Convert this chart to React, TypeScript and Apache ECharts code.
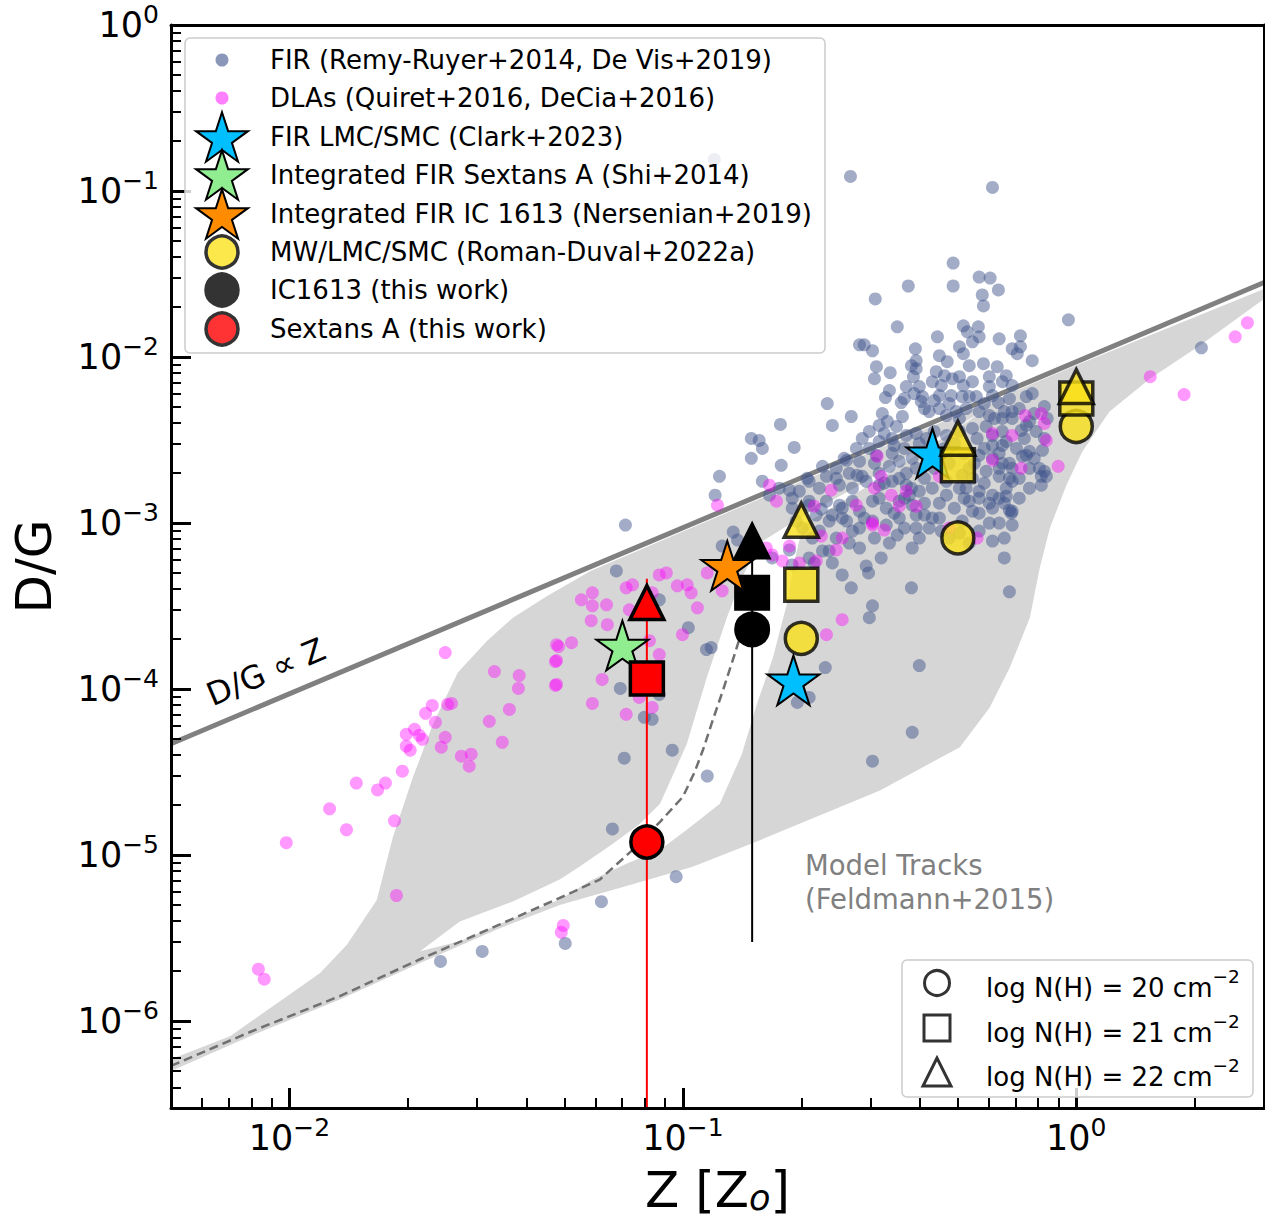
import React, { useEffect, useRef } from "react";
import * as echarts from "echarts";

const FONT = "DejaVu Sans";

// ---- axis limits ----
const xMin = 0.005, xMax = 3;
const yMin = 3e-7, yMax = 1;
const xMajorExp = [-2, -1, 0];
const yMajorExp = [-6, -5, -4, -3, -2, -1, 0];

// ---- FIR (Remy-Ruyer+2014, De Vis+2019): [log10 Z, log10 D/G] ----
const firPoints: [number, number][] = [
  [-0.920,-0.810],[-0.574,-0.912],[-0.213,-0.978],[-0.313,-1.434],[-0.427,-1.572],[-0.313,-1.572],[-0.247,-1.518],[-0.219,-1.524],
  [-0.198,-1.596],[-0.239,-1.626],[-0.236,-1.692],[-0.511,-1.650],[-0.020,-1.776],[-0.455,-1.818],[-0.353,-1.878],[-0.287,-1.812],
  [-0.277,-1.848],[-0.249,-1.818],[-0.247,-1.878],[-0.264,-1.908],[-0.196,-1.890],[-0.142,-1.872],[-0.163,-1.950],[-0.150,-1.980],
  [-0.142,-1.938],[-0.112,-2.022],[-0.297,-1.938],[-0.287,-1.980],[-0.348,-1.992],[-0.409,-1.950],[-0.551,-1.926],[-0.539,-1.926],
  [-0.518,-1.962],[-0.407,-2.022],[-0.419,-2.052],[-0.407,-2.070],[-0.328,-2.028],[-0.236,-2.040],[-0.272,-2.052],[-0.201,-2.058],
  [-0.178,-2.112],[-0.508,-2.058],[-0.513,-2.130],[-0.473,-2.094],[-0.414,-2.118],[-0.356,-2.088],[-0.335,-2.112],[-0.366,-2.148],
  [-0.343,-2.172],[-0.315,-2.130],[-0.297,-2.118],[-0.287,-2.172],[-0.264,-2.148],[-0.221,-2.118],[-0.221,-2.178],[-0.188,-2.148],
  [-0.163,-2.172],[-0.432,-2.178],[-0.399,-2.178],[-0.391,-2.238],[-0.348,-2.232],[-0.485,-2.244],[-0.445,-2.274],[-0.394,-2.268],
  [-0.318,-2.232],[-0.290,-2.238],[-0.254,-2.238],[-0.213,-2.232],[-0.198,-2.274],[-0.127,-2.238],[-0.112,-2.220],[-0.633,-2.280],
  [-0.572,-2.358],[-0.620,-2.412],[-0.752,-2.406],[-0.717,-2.544],[-0.750,-2.652],[-0.493,-2.340],[-0.480,-2.388],[-0.457,-2.418],
  [-0.442,-2.358],[-0.374,-2.328],[-0.348,-2.310],[-0.330,-2.352],[-0.305,-2.328],[-0.280,-2.310],[-0.247,-2.328],[-0.221,-2.352],
  [-0.183,-2.328],[-0.163,-2.370],[-0.127,-2.412],[-0.102,-2.448],[-0.074,-2.370],[-0.501,-2.412],[-0.526,-2.448],[-0.544,-2.490],
  [-0.559,-2.550],[-0.526,-2.550],[-0.501,-2.508],[-0.468,-2.490],[-0.432,-2.472],[-0.407,-2.460],[-0.381,-2.490],[-0.361,-2.448],
  [-0.330,-2.472],[-0.297,-2.448],[-0.264,-2.430],[-0.229,-2.418],[-0.213,-2.472],[-0.188,-2.448],[-0.252,-2.490],[-0.213,-2.532],
  [-0.178,-2.508],[-0.152,-2.550],[-0.127,-2.592],[-0.086,-2.562],[-0.584,-2.622],[-0.551,-2.628],[-0.508,-2.592],[-0.468,-2.580],
  [-0.450,-2.628],[-0.417,-2.610],[-0.381,-2.568],[-0.610,-2.670],[-0.577,-2.700],[-0.544,-2.718],[-0.501,-2.700],[-0.475,-2.658],
  [-0.432,-2.700],[-0.407,-2.670],[-0.247,-2.592],[-0.213,-2.610],[-0.188,-2.640],[-0.229,-2.688],[-0.196,-2.718],[-0.163,-2.670],
  [-0.145,-2.730],[-0.094,-2.670],[-0.076,-2.718],[-0.635,-2.718],[-0.679,-2.748],[-0.653,-2.790],[-0.704,-2.808],[-0.722,-2.850],
  [-0.755,-2.790],[-0.780,-2.832],[-0.798,-2.748],[-0.602,-2.772],[-0.569,-2.790],[-0.534,-2.748],[-0.501,-2.772],[-0.468,-2.748],
  [-0.432,-2.772],[-0.399,-2.808],[-0.366,-2.790],[-0.330,-2.748],[-0.264,-2.730],[-0.280,-2.790],[-0.247,-2.808],[-0.213,-2.832],
  [-0.178,-2.790],[-0.196,-2.850],[-0.163,-2.928],[-0.635,-2.868],[-0.602,-2.892],[-0.569,-2.868],[-0.551,-2.928],[-0.595,-2.970],
  [-0.518,-2.868],[-0.483,-2.910],[-0.450,-2.868],[-0.417,-2.892],[-0.407,-2.952],[-0.450,-2.970],[-0.483,-3.012],[-0.518,-2.988],
  [-0.551,-3.030],[-0.455,-3.072],[-0.407,-3.030],[-0.366,-2.970],[-0.330,-2.832],[-0.272,-2.868],[-0.264,-2.928],[-0.213,-2.910],
  [-0.196,-3.000],[-0.163,-3.012],[-0.247,-3.048],[-0.213,-3.108],[-0.348,-2.970],[-0.343,-3.048],[-0.290,-2.988],[-0.679,-2.868],
  [-0.722,-2.910],[-0.661,-2.952],[-0.696,-3.030],[-0.653,-3.048],[-0.628,-2.988],[-0.610,-3.090],
  [-0.907,-2.718],[-0.918,-2.832],[-0.826,-2.490],[-0.806,-2.502],[-0.798,-2.550],[-0.826,-2.610],[-0.417,-3.150],[-0.496,-3.210],
  [-0.551,-3.150],[-0.534,-3.258],[-0.170,-2.922],[-0.089,-2.718],[-0.089,-2.772],[-0.119,-2.568],[-0.178,-2.838],[-0.183,-3.210],
  [-0.247,-2.850],[-0.290,-2.712],[-0.386,-2.952],[-0.424,-2.832],[-0.163,-2.328],
  [-0.684,-2.730],[-0.645,-2.658],[-0.729,-2.802],[-0.679,-2.892],[-0.648,-2.916],[-0.610,-2.730],[-0.590,-2.610],[-0.557,-2.712],
  [-0.595,-2.910],[-0.620,-2.952],[-0.584,-2.988],[-0.569,-3.048],[-0.577,-3.120],[-0.671,-3.090],[-0.645,-3.168],[-0.666,-3.240],
  [-0.595,-3.312],[-0.620,-3.240],[-0.729,-3.162],[-0.773,-3.210],[-0.722,-3.252],[-1.146,-3.012],[-0.872,-3.054],[-0.900,-3.138],
  [-0.861,-3.102],[-1.169,-3.288],
  [-1.060,-3.462],[-0.986,-3.630],[-0.940,-3.762],[-0.928,-3.750],[-1.159,-3.996],[-1.098,-4.170],[-1.078,-4.182],[-1.060,-4.032],
  [-0.638,-3.870],[-0.709,-4.080],[-0.679,-4.050],[-0.572,-3.390],[-0.528,-3.300],[-0.526,-3.570],[-0.518,-3.498],[-0.628,-3.168],
  [-0.679,-3.210],[-0.712,-2.988],[-1.149,-4.416],[-1.027,-4.368],[-0.938,-4.524],[-1.179,-4.842],[-1.017,-5.130],[-1.207,-5.280],
  [-1.299,-5.532],[-0.518,-4.434],[-1.616,-5.640],[-1.510,-5.580],[-0.417,-4.260],[-0.399,-3.858],[-0.419,-3.390],[-0.170,-3.414],
  [0.318,-1.944],[-0.188,-2.370],[-0.140,-2.442],[-0.119,-2.388],[-0.081,-2.298],[-0.188,-2.532],[-0.137,-2.598],[-0.163,-2.748],
  [-0.081,-2.688],[-0.165,-2.940],
  [-0.475,-2.202],[-0.437,-2.250],[-0.412,-2.220],[-0.386,-2.310],[-0.361,-2.262],[-0.323,-2.280],[-0.297,-2.370],[-0.272,-2.238],
  [-0.234,-2.280],[-0.208,-2.370],[-0.170,-2.250],[-0.145,-2.310],[-0.107,-2.340],[-0.488,-2.460],[-0.463,-2.532],[-0.437,-2.550],
  [-0.399,-2.520],[-0.374,-2.610],[-0.335,-2.550],[-0.310,-2.520],[-0.285,-2.580],[-0.259,-2.640],[-0.234,-2.550],[-0.196,-2.580],
  [-0.170,-2.640],[-0.132,-2.490],[-0.107,-2.610],[-0.081,-2.490],[-0.513,-2.640],[-0.488,-2.760],[-0.450,-2.730],[-0.419,-2.790],
  [-0.386,-2.730],[-0.361,-2.670],[-0.323,-2.640],[-0.297,-2.790],[-0.272,-2.670],[-0.234,-2.760],[-0.196,-2.670],[-0.170,-2.730],
  [-0.119,-2.670],[-0.501,-2.850],[-0.463,-2.940],[-0.437,-2.850],[-0.386,-2.880],[-0.348,-2.880],[-0.310,-2.910],[-0.285,-2.850],
  [-0.247,-2.940],[-0.221,-2.880],[-0.183,-2.880],[-0.145,-2.850],[-0.119,-2.790],[-0.437,-3.030],[-0.399,-3.090],[-0.374,-3.030],
  [-0.323,-3.090],[-0.297,-3.060],[-0.272,-3.120],[-0.221,-3.000],[-0.183,-3.090],[-0.539,-2.970],[-0.513,-3.090],[-0.475,-3.120]
];

// ---- DLAs (Quiret+2016, DeCia+2016): [log10 Z, log10 D/G] ----
const dlaPoints: [number, number][] = [
  [-1.604,-3.780],[-1.479,-3.894],[-1.416,-3.918],[-1.418,-3.996],[-1.324,-3.834],[-1.316,-3.744],[-1.283,-3.720],[-1.324,-3.978],
  [-1.230,-4.086],[-1.258,-3.462],[-1.230,-3.420],[-1.230,-3.498],[-1.233,-3.588],[-1.598,-4.092],[-1.588,-4.086],[-1.637,-4.098],
  [-1.654,-4.146],[-1.629,-4.200],[-1.604,-4.290],[-1.614,-4.350],[-1.682,-4.242],[-1.703,-4.272],[-1.670,-4.278],[-1.662,-4.302],
  [-1.703,-4.344],[-1.693,-4.368],[-1.492,-4.194],[-1.441,-4.122],[-1.459,-4.320],[-1.563,-4.404],[-1.538,-4.392],[-1.543,-4.464],
  [-1.713,-4.494],[-1.756,-4.566],[-1.776,-4.607],[-1.830,-4.566],[-1.898,-4.721],[-1.855,-4.847],[-1.733,-4.793],[-2.008,-4.925],
  [-1.728,-5.243],[-2.079,-5.687],[-2.064,-5.747],[-1.304,-5.423],[-1.309,-5.465],
  [0.435,-1.794],[0.404,-1.878],[0.188,-2.118],[0.274,-2.226],[-0.130,-2.352],[-0.089,-2.340],[-0.081,-2.400],[-0.076,-2.502],
  [-0.046,-2.658],[-0.140,-2.670],[-0.163,-2.472],[-0.213,-2.460],[-0.213,-2.622],[-0.506,-2.598],[-0.496,-2.718],[-0.513,-2.790],
  [-0.623,-2.802],[-0.559,-2.892],[-0.470,-2.832],[-0.450,-2.898],[-0.407,-2.898],[-0.432,-2.808],[-0.488,-3.042],[-0.518,-3.000],
  [-0.595,-3.090],[-0.666,-2.898],[-0.648,-3.078],[-0.729,-3.138],[-0.780,-2.772],[-0.762,-2.868],[-0.348,-2.718],[-0.252,-3.090],
  [-0.323,-3.030],[-0.912,-2.892],[-0.704,-3.240],[-0.773,-3.192],[-1.060,-3.312],[-1.042,-3.300],[-0.938,-3.300],[-1.144,-3.390],
  [-1.128,-3.372],[-1.014,-3.378],[-0.989,-3.372],[-0.979,-3.420],[-0.963,-3.510],[-0.900,-3.408],[-1.194,-3.492],[-1.192,-3.612],
  [-1.136,-3.522],[-1.078,-3.420],[-1.085,-3.708],[-1.060,-3.792],[-1.001,-3.672],[-1.078,-4.110],[-1.144,-4.152],[-1.205,-3.942],
  [-1.321,-3.732],[-1.321,-3.828],[-1.321,-3.972],[-1.111,-4.050],[-0.595,-3.582],[-0.635,-3.672],[-0.788,-3.150],[-0.747,-3.228],
  [-0.661,-3.228],[-0.610,-3.162],[-0.518,-3.012]
];

// ---- D/G proportional to Z reference line ----
const dgLineZ = [0.005, 3];
const dgLineDG = [4.69e-5, 2.81e-2];

// ---- model track (Feldmann+2015), dashed: [log10 Z, log10 D/G] ----
const modelTrack: [number, number][] = [
  [-2.301,-6.269],[-2.100,-6.065],[-1.872,-5.849],[-1.668,-5.627],[-1.465,-5.417],[-1.305,-5.249],[-1.211,-5.147],
  [-1.127,-4.967],[-1.058,-4.799],[-1.000,-4.649],[-0.970,-4.499],[-0.949,-4.367],[-0.924,-4.187],[-0.898,-4.007],
  [-0.875,-3.839],[-0.855,-3.689],[-0.835,-3.641]
];

// ---- model envelope (shaded) and inner gap: [log10 Z, log10 D/G] ----
const modelEnvelope: [number, number][] = [
  [-2.301,-6.23],[-2.151,-6.09],[-2.006,-5.85],[-1.922,-5.71],[-1.854,-5.54],[-1.778,-5.27],[-1.737,-4.89],[-1.686,-4.53],
  [-1.635,-4.21],[-1.572,-3.90],[-1.498,-3.71],[-1.432,-3.57],[-1.346,-3.44],[-1.236,-3.29],[-1.000,-3.05],[-0.500,-2.55],
  [0.000,-2.05],[0.477,-1.59],
  [0.477,-1.65],[0.314,-1.93],[0.187,-2.13],[0.084,-2.33],[0.015,-2.57],[-0.025,-2.77],[-0.067,-3.03],[-0.093,-3.27],
  [-0.118,-3.57],[-0.169,-3.87],[-0.220,-4.11],[-0.296,-4.35],[-0.499,-4.61],[-0.804,-4.91],[-0.975,-5.07],[-1.150,-5.19],
  [-1.313,-5.30],[-1.465,-5.44],[-1.668,-5.65],[-1.872,-5.87],[-2.100,-6.09],[-2.301,-6.30]
];
const modelGap: [number, number][] = [
  [-1.668,-5.579],[-1.567,-5.399],[-1.432,-5.279],[-1.313,-5.147],[-1.262,-5.069],[-1.178,-4.931],[-1.109,-4.811],
  [-1.058,-4.691],[-0.990,-4.331],[-0.939,-3.929],[-0.888,-3.569],[-0.850,-3.329],[-0.804,-3.119],[-0.703,-2.969],
  [-0.550,-2.771],[-0.398,-2.549],[-0.233,-2.321],
  [-0.398,-2.579],[-0.550,-2.807],[-0.695,-3.011],[-0.720,-3.269],[-0.736,-3.491],[-0.771,-3.809],[-0.812,-4.091],
  [-0.850,-4.391],[-0.906,-4.691],[-0.990,-4.847],[-1.058,-4.967],[-1.142,-5.051],[-1.229,-5.147],[-1.313,-5.267],
  [-1.432,-5.381],[-1.567,-5.519]
];

// ---- literature / this-work points ----
const clarkZ = [0.431, 0.191];
const clarkDG = [2.63e-3, 1.13e-4];
const shiZ = [0.0702];
const shiDG = [1.83e-4];
const nersenianZ = [0.1297];
const nersenianDG = [5.53e-4];
const romanDuvalZ = [0.2, 0.5, 1.0];
const romanDuvalDG20 = [2.02e-4, 8.14e-4, 3.82e-3];
const romanDuvalDG21 = [4.25e-4, 2.23e-3, 5.62e-3];
const romanDuvalDG22 = [1.04e-3, 3.24e-3, 6.64e-3];
const ic1613Z = 0.15;
const ic1613DG = [2.29e-4, 3.81e-4, 7.81e-4]; // logN = 20, 21, 22
const ic1613Range = [3.0e-6, 1.0e-3];
const sextansZ = 0.081;
const sextansDG = [1.2e-5, 1.16e-4, 3.32e-4]; // logN = 20, 21, 22
const sextansRange = [1e-7, 4.62e-4];

const legendLabels = [
  "FIR (Remy-Ruyer+2014, De Vis+2019)",
  "DLAs (Quiret+2016, DeCia+2016)",
  "FIR LMC/SMC (Clark+2023)",
  "Integrated FIR Sextans A (Shi+2014)",
  "Integrated FIR IC 1613 (Nersenian+2019)",
  "MW/LMC/SMC (Roman-Duval+2022a)",
  "IC1613 (this work)",
  "Sextans A (this work)",
];
const columnLabels = ["20", "21", "22"];

// ---- styling ----
const FIR_COLOR = "rgba(60,82,137,0.6)";
const DLA_COLOR = "rgba(255,0,255,0.5)";
const YELLOW = "rgba(250,224,25,0.8)";
const YELLOW_EDGE = "rgba(0,0,0,0.8)";
const STAR_PATH =
  "path://M0,-1L0.2245,-0.309L0.9511,-0.309L0.3633,0.118L0.5878,0.809L0,0.382L-0.5878,0.809L-0.3633,0.118L-0.9511,-0.309L-0.2245,-0.309Z";
const STAR_UNIT = [
  [0, -1], [0.2245, -0.309], [0.9511, -0.309], [0.3633, 0.118], [0.5878, 0.809],
  [0, 0.382], [-0.5878, 0.809], [-0.3633, 0.118], [-0.9511, -0.309], [-0.2245, -0.309],
];

const toReal = (pts: [number, number][]) => pts.map(([a, b]) => [Math.pow(10, a), Math.pow(10, b)]);
const zip = (xs: number[], ys: number[]) => xs.map((x, i) => [x, ys[i]]);

function minorLogTicks(lo: number, hi: number) {
  const out: number[] = [];
  for (let n = -8; n <= 1; n++) {
    for (let k = 2; k <= 9; k++) {
      const v = k * Math.pow(10, n);
      if (v > lo * 1.0001 && v < hi * 0.9999) out.push(Math.log10(v));
    }
  }
  return out;
}

const supText = (v: number) => {
  const e = Math.round(v);
  return `{b|10}{s|${e < 0 ? "\u2212" + -e : e}}`;
};
const tickRich = {
  b: { fontFamily: FONT, fontSize: 35, lineHeight: 40, verticalAlign: "bottom", color: "#000" },
  s: { fontFamily: FONT, fontSize: 25, lineHeight: 30, verticalAlign: "top", color: "#000" },
};

function starPoints(cx: number, cy: number, R: number) {
  const cyAdj = cy + 0.0955 * R;
  return STAR_UNIT.map(([x, y]) => [cx + x * R, cyAdj + y * R]);
}

function buildOption() {
  const lxMin = Math.log10(xMin), lxMax = Math.log10(xMax);
  const lyMin = Math.log10(yMin), lyMax = Math.log10(yMax);

  const hiddenValue = (min: number, max: number, position: string) => ({
    type: "value", min, max, position, z: 10,
    splitLine: { show: false },
    axisLine: { show: false, onZero: false },
    axisTick: { show: false },
    axisLabel: { show: false },
  });

  const xAxis = [
    { type: "log", logBase: 10, min: xMin, max: xMax, show: false, splitLine: { show: false } },
    {
      ...hiddenValue(lxMin, lxMax, "bottom"),
      axisLine: { show: true, onZero: false, lineStyle: { color: "#000", width: 3 } },
      axisTick: { show: true, inside: true, length: 20, lineStyle: { color: "#000", width: 3 }, customValues: xMajorExp },
      axisLabel: { show: true, interval: 0, margin: 7, customValues: xMajorExp, formatter: supText, rich: tickRich },
      name: "{a|Z [Z}{o|o}{a|]}",
      nameLocation: "middle",
      nameGap: 47,
      nameTextStyle: {
        rich: {
          a: { fontFamily: FONT, fontSize: 50, lineHeight: 60, verticalAlign: "bottom", color: "#000" },
          o: { fontFamily: FONT, fontSize: 35, fontStyle: "italic", lineHeight: 28, verticalAlign: "bottom", color: "#000" },
        },
      },
    },
    {
      ...hiddenValue(lxMin, lxMax, "bottom"),
      axisTick: { show: true, inside: true, length: 10, lineStyle: { color: "#000", width: 2 }, customValues: minorLogTicks(xMin, xMax) },
    },
    {
      ...hiddenValue(lxMin, lxMax, "top"),
      axisLine: { show: true, onZero: false, lineStyle: { color: "#000", width: 3 } },
    },
  ];

  const yAxis = [
    { type: "log", logBase: 10, min: yMin, max: yMax, show: false, splitLine: { show: false } },
    {
      ...hiddenValue(lyMin, lyMax, "left"),
      axisLine: { show: true, onZero: false, lineStyle: { color: "#000", width: 3 } },
      axisTick: { show: true, inside: true, length: 20, lineStyle: { color: "#000", width: 3 }, customValues: yMajorExp },
      axisLabel: {
        show: true, interval: 0, margin: 12, customValues: yMajorExp, formatter: supText, rich: tickRich,
        padding: [0, 0, 6, 0],
      },
      name: "D/G",
      nameLocation: "middle",
      nameRotate: 90,
      nameGap: 112,
      nameTextStyle: { fontFamily: FONT, fontSize: 50, color: "#000" },
    },
    {
      ...hiddenValue(lyMin, lyMax, "left"),
      axisTick: { show: true, inside: true, length: 10, lineStyle: { color: "#000", width: 2 }, customValues: minorLogTicks(yMin, yMax) },
    },
    {
      ...hiddenValue(lyMin, lyMax, "right"),
      axisLine: { show: true, onZero: false, lineStyle: { color: "#000", width: 3 } },
    },
  ];

  const envelopeReal = toReal(modelEnvelope);
  const gapReal = toReal(modelGap);

  const markerSeries = (name: string, data: number[][], symbol: string, size: any, color: string, edge: string, edgeW: number, z: number) => ({
    name, type: "scatter", xAxisIndex: 0, yAxisIndex: 0, data, symbol, symbolSize: size, z,
    itemStyle: { color, borderColor: edge, borderWidth: edgeW, opacity: 1 },
    emphasis: { disabled: true },
  });

  const series: any[] = [
    {
      name: "Model Tracks (Feldmann+2015)",
      type: "custom", xAxisIndex: 0, yAxisIndex: 0, silent: true, clip: true, z: 1,
      data: [[0.1, 1e-3]],
      renderItem: (_p: any, api: any) => ({
        type: "group",
        children: [
          { type: "polygon", shape: { points: envelopeReal.map((p) => api.coord(p)) }, style: { fill: "#d6d6d6" } },
          { type: "polygon", shape: { points: gapReal.map((p) => api.coord(p)) }, style: { fill: "#ffffff" } },
        ],
      }),
    },
    {
      name: "D/G \u221d Z", type: "line", xAxisIndex: 0, yAxisIndex: 0, z: 2, symbol: "none", silent: true,
      data: zip(dgLineZ, dgLineDG), lineStyle: { color: "#808080", width: 5 },
    },
    {
      name: "Model track", type: "line", xAxisIndex: 0, yAxisIndex: 0, z: 2, symbol: "none", silent: true,
      data: toReal(modelTrack), lineStyle: { color: "#707070", width: 2.5, type: [9, 5] },
    },
    {
      name: legendLabels[0], type: "scatter", xAxisIndex: 0, yAxisIndex: 0, z: 3, symbolSize: 13,
      data: toReal(firPoints), itemStyle: { color: FIR_COLOR }, emphasis: { disabled: true },
    },
    {
      name: legendLabels[1], type: "scatter", xAxisIndex: 0, yAxisIndex: 0, z: 3, symbolSize: 13,
      data: toReal(dlaPoints), itemStyle: { color: DLA_COLOR }, emphasis: { disabled: true },
    },
    {
      name: "IC1613 range", type: "line", xAxisIndex: 0, yAxisIndex: 0, z: 4, symbol: "none", silent: true,
      data: ic1613Range.map((v) => [ic1613Z, v]), lineStyle: { color: "#000", width: 2 },
    },
    {
      name: "Sextans A range", type: "line", xAxisIndex: 0, yAxisIndex: 0, z: 4, symbol: "none", silent: true,
      data: sextansRange.map((v) => [sextansZ, v]), lineStyle: { color: "#ff0000", width: 2 },
    },
    markerSeries(legendLabels[2], zip(clarkZ, clarkDG), STAR_PATH, [52, 49.5], "#00bfff", "#000", 2, 5),
    markerSeries(legendLabels[3], zip(shiZ, shiDG), STAR_PATH, [52, 49.5], "#90ee90", "#000", 2, 5),
    markerSeries(legendLabels[5] + " 20", zip(romanDuvalZ, romanDuvalDG20), "circle", 32, YELLOW, YELLOW_EDGE, 3.5, 6),
    markerSeries(legendLabels[5] + " 21", zip(romanDuvalZ, romanDuvalDG21), "rect", 33, YELLOW, YELLOW_EDGE, 3.5, 6),
    markerSeries(legendLabels[5] + " 22", zip(romanDuvalZ, romanDuvalDG22), "triangle", 34, YELLOW, YELLOW_EDGE, 3.5, 6),
    markerSeries(legendLabels[6] + " 20", [[ic1613Z, ic1613DG[0]]], "circle", 33, "#000", "#000", 3, 7),
    markerSeries(legendLabels[6] + " 21", [[ic1613Z, ic1613DG[1]]], "rect", 33, "#000", "#000", 3, 7),
    markerSeries(legendLabels[6] + " 22", [[ic1613Z, ic1613DG[2]]], "triangle", 34, "#000", "#000", 3, 7),
    markerSeries(legendLabels[7] + " 20", [[sextansZ, sextansDG[0]]], "circle", 32, "#ff0000", "#000", 3.5, 8),
    markerSeries(legendLabels[7] + " 21", [[sextansZ, sextansDG[1]]], "rect", 33, "#ff0000", "#000", 3.5, 8),
    markerSeries(legendLabels[7] + " 22", [[sextansZ, sextansDG[2]]], "triangle", 34, "#ff0000", "#000", 3.5, 8),
    markerSeries(legendLabels[4], zip(nersenianZ, nersenianDG), STAR_PATH, [52, 49.5], "#ff8c00", "#000", 2, 9),
  ];

  // ---- legends and annotations ----
  const Z = 100;
  const rows1 = [60, 98, 137, 175, 214, 252, 290, 329];
  const mx = 222;
  const graphic: any[] = [
    { type: "rect", z: Z, shape: { x: 185, y: 38, width: 640, height: 315, r: 5 },
      style: { fill: "rgba(255,255,255,0.8)", stroke: "#cccccc", lineWidth: 1.5 } },
    { type: "circle", z: Z + 1, shape: { cx: mx, cy: rows1[0], r: 6.5 }, style: { fill: FIR_COLOR } },
    { type: "circle", z: Z + 1, shape: { cx: mx, cy: rows1[1], r: 6.5 }, style: { fill: DLA_COLOR } },
    { type: "polygon", z: Z + 1, shape: { points: starPoints(mx, rows1[2], 27.3) }, style: { fill: "#00bfff", stroke: "#000", lineWidth: 2 } },
    { type: "polygon", z: Z + 2, shape: { points: starPoints(mx, rows1[3], 27.3) }, style: { fill: "#90ee90", stroke: "#000", lineWidth: 2 } },
    { type: "polygon", z: Z + 3, shape: { points: starPoints(mx, rows1[4], 27.3) }, style: { fill: "#ff8c00", stroke: "#000", lineWidth: 2 } },
    { type: "circle", z: Z + 1, shape: { cx: mx, cy: rows1[5], r: 16 }, style: { fill: "#fde84b", stroke: "#333", lineWidth: 3.5 } },
    { type: "circle", z: Z + 1, shape: { cx: mx, cy: rows1[6], r: 16 }, style: { fill: "#333", stroke: "#333", lineWidth: 3.5 } },
    { type: "circle", z: Z + 1, shape: { cx: mx, cy: rows1[7], r: 16 }, style: { fill: "#ff3333", stroke: "#333", lineWidth: 3.5 } },
    ...legendLabels.map((t, i) => ({
      type: "text", z: Z + 4, x: 270, y: rows1[i],
      style: { text: t, fontFamily: FONT, fontSize: 26, fill: "#000", verticalAlign: "middle", textAlign: "left" },
    })),
    // column density legend
    { type: "rect", z: Z, shape: { x: 902, y: 960, width: 351, height: 137, r: 5 },
      style: { fill: "rgba(255,255,255,0.8)", stroke: "#cccccc", lineWidth: 1.5 } },
    { type: "circle", z: Z + 1, shape: { cx: 937, cy: 983, r: 12.5 }, style: { fill: "none", stroke: "#333", lineWidth: 3 } },
    { type: "rect", z: Z + 1, shape: { x: 924, y: 1015, width: 26, height: 26 }, style: { fill: "none", stroke: "#333", lineWidth: 3 } },
    { type: "polygon", z: Z + 1, shape: { points: [[937, 1058], [923, 1086], [951, 1086]] }, style: { fill: "none", stroke: "#333", lineWidth: 3 } },
    ...columnLabels.map((t, i) => ({
      type: "text", z: Z + 4, x: 986, y: [984, 1029, 1073][i],
      style: {
        text: `{b|log N(H) = ${t} cm}{s|\u22122}`,
        verticalAlign: "middle", textAlign: "left",
        rich: {
          b: { fontFamily: FONT, fontSize: 26, lineHeight: 34, verticalAlign: "bottom", fill: "#000" },
          s: { fontFamily: FONT, fontSize: 18.5, lineHeight: 26, verticalAlign: "top", fill: "#000" },
        },
      },
    })),
    {
      type: "text", z: Z, x: 266, y: 672, rotation: 0.4008,
      style: { text: "D/G \u221d Z", fontFamily: FONT, fontSize: 32, fill: "#000", textAlign: "center", verticalAlign: "middle" },
    },
    {
      type: "text", z: Z, x: 805, y: 848,
      style: { text: "Model Tracks\n(Feldmann+2015)", fontFamily: FONT, fontSize: 27.5, lineHeight: 34, fill: "#808080", textAlign: "left", verticalAlign: "top" },
    },
  ];

  return {
    animation: false,
    backgroundColor: "#ffffff",
    textStyle: { fontFamily: FONT },
    grid: { left: 171, right: 1, top: 25, bottom: 108, containLabel: false },
    xAxis,
    yAxis,
    series,
    graphic,
  };
}

export default function App() {
  const ref = useRef<HTMLDivElement>(null);
  useEffect(() => {
    if (!ref.current) return;
    const chart = echarts.init(ref.current, undefined, { renderer: "svg" });
    chart.setOption(buildOption() as any);
    return () => chart.dispose();
  }, []);
  return <div ref={ref} style={{ position: "absolute", left: 0, top: 0, width: 1265, height: 1220 }} />;
}
